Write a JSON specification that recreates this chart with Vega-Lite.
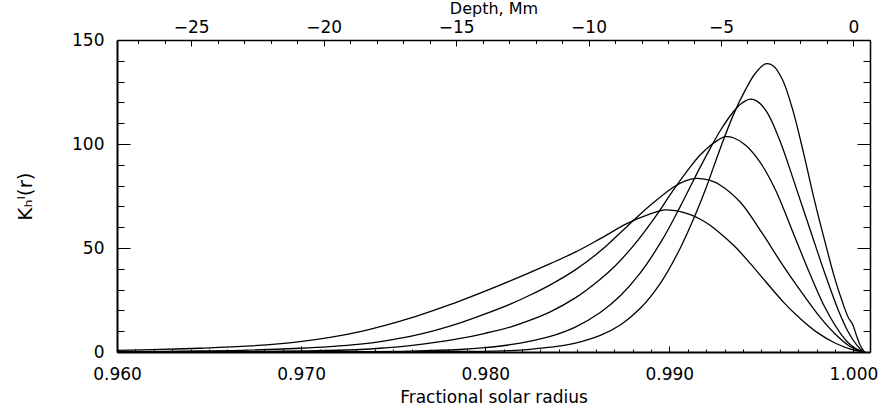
{
  "$schema": "https://vega.github.io/schema/vega-lite/v6.json",
  "width": 753,
  "height": 312,
  "autosize": {"type": "none"},
  "padding": {"left": 117, "top": 40, "right": 20, "bottom": 60},
  "background": "white",
  "config": {
    "view": {"stroke": null},
    "axis": {
      "grid": false,
      "domainColor": "black",
      "tickColor": "black",
      "labelColor": "black",
      "titleColor": "black",
      "labelFont": "DejaVu Sans",
      "titleFont": "DejaVu Sans",
      "labelFontSize": 17,
      "titleFontSize": 17,
      "titleFontWeight": "normal",
      "domainWidth": 1.5,
      "tickWidth": 1,
      "labelFlush": false,
      "labelOverlap": false
    }
  },
  "data": {
    "values": [
      {"c": "A", "r": 0.96, "k": 0},
      {"c": "A", "r": 0.973207, "k": 0.02},
      {"c": "A", "r": 0.975924, "k": 0.08},
      {"c": "A", "r": 0.978641, "k": 0.25},
      {"c": "A", "r": 0.981359, "k": 0.7},
      {"c": "A", "r": 0.982446, "k": 1.3},
      {"c": "A", "r": 0.983533, "k": 2.3},
      {"c": "A", "r": 0.984891, "k": 4.3},
      {"c": "A", "r": 0.98625, "k": 8},
      {"c": "A", "r": 0.987337, "k": 13},
      {"c": "A", "r": 0.988424, "k": 21},
      {"c": "A", "r": 0.989511, "k": 33},
      {"c": "A", "r": 0.990598, "k": 50},
      {"c": "A", "r": 0.991413, "k": 66},
      {"c": "A", "r": 0.991957, "k": 78},
      {"c": "A", "r": 0.992772, "k": 98},
      {"c": "A", "r": 0.993478, "k": 114},
      {"c": "A", "r": 0.99413, "k": 126},
      {"c": "A", "r": 0.994674, "k": 134},
      {"c": "A", "r": 0.995217, "k": 138.5},
      {"c": "A", "r": 0.995652, "k": 137.5},
      {"c": "A", "r": 0.996141, "k": 131},
      {"c": "A", "r": 0.996685, "k": 117},
      {"c": "A", "r": 0.997283, "k": 96},
      {"c": "A", "r": 0.99788, "k": 73},
      {"c": "A", "r": 0.998424, "k": 54},
      {"c": "A", "r": 0.998967, "k": 36},
      {"c": "A", "r": 0.999402, "k": 24},
      {"c": "A", "r": 0.999728, "k": 16.5},
      {"c": "A", "r": 0.999946, "k": 13.5},
      {"c": "A", "r": 1.000163, "k": 8},
      {"c": "A", "r": 1.00038, "k": 3},
      {"c": "A", "r": 1.000598, "k": 0},

      {"c": "B", "r": 0.96, "k": 0},
      {"c": "B", "r": 0.969946, "k": 0.1},
      {"c": "B", "r": 0.973207, "k": 0.2},
      {"c": "B", "r": 0.975924, "k": 0.45},
      {"c": "B", "r": 0.978641, "k": 1.2},
      {"c": "B", "r": 0.98, "k": 2.1},
      {"c": "B", "r": 0.981359, "k": 3.5},
      {"c": "B", "r": 0.982446, "k": 5.2},
      {"c": "B", "r": 0.983533, "k": 7.5},
      {"c": "B", "r": 0.984891, "k": 12},
      {"c": "B", "r": 0.98625, "k": 19},
      {"c": "B", "r": 0.987337, "k": 27},
      {"c": "B", "r": 0.988424, "k": 38},
      {"c": "B", "r": 0.98962, "k": 54},
      {"c": "B", "r": 0.990598, "k": 70},
      {"c": "B", "r": 0.991685, "k": 89},
      {"c": "B", "r": 0.992228, "k": 98},
      {"c": "B", "r": 0.992772, "k": 106.5},
      {"c": "B", "r": 0.993478, "k": 115.5},
      {"c": "B", "r": 0.993913, "k": 119.5},
      {"c": "B", "r": 0.994348, "k": 121.5},
      {"c": "B", "r": 0.994783, "k": 120.5},
      {"c": "B", "r": 0.995326, "k": 115},
      {"c": "B", "r": 0.996033, "k": 101},
      {"c": "B", "r": 0.996848, "k": 80},
      {"c": "B", "r": 0.997772, "k": 55.5},
      {"c": "B", "r": 0.998478, "k": 37},
      {"c": "B", "r": 0.999185, "k": 20},
      {"c": "B", "r": 0.999728, "k": 9.5},
      {"c": "B", "r": 1.000163, "k": 3.5},
      {"c": "B", "r": 1.000489, "k": 0.5},
      {"c": "B", "r": 1.000598, "k": 0},

      {"c": "C", "r": 0.96, "k": 0.02},
      {"c": "C", "r": 0.967228, "k": 0.2},
      {"c": "C", "r": 0.969946, "k": 0.5},
      {"c": "C", "r": 0.973207, "k": 1.2},
      {"c": "C", "r": 0.974565, "k": 2.0},
      {"c": "C", "r": 0.975924, "k": 3.1},
      {"c": "C", "r": 0.977283, "k": 4.6},
      {"c": "C", "r": 0.978641, "k": 6.5},
      {"c": "C", "r": 0.98, "k": 9},
      {"c": "C", "r": 0.981359, "k": 12},
      {"c": "C", "r": 0.982446, "k": 15.3},
      {"c": "C", "r": 0.983533, "k": 19.3},
      {"c": "C", "r": 0.984891, "k": 26},
      {"c": "C", "r": 0.98625, "k": 35},
      {"c": "C", "r": 0.987065, "k": 41.5},
      {"c": "C", "r": 0.988043, "k": 51},
      {"c": "C", "r": 0.989239, "k": 65},
      {"c": "C", "r": 0.990217, "k": 77.8},
      {"c": "C", "r": 0.991141, "k": 89},
      {"c": "C", "r": 0.991685, "k": 94.8},
      {"c": "C", "r": 0.992228, "k": 99.3},
      {"c": "C", "r": 0.992663, "k": 102},
      {"c": "C", "r": 0.993043, "k": 103.5},
      {"c": "C", "r": 0.993478, "k": 103},
      {"c": "C", "r": 0.99413, "k": 99.5},
      {"c": "C", "r": 0.994946, "k": 91},
      {"c": "C", "r": 0.995761, "k": 78},
      {"c": "C", "r": 0.996739, "k": 57},
      {"c": "C", "r": 0.997663, "k": 37},
      {"c": "C", "r": 0.998478, "k": 21},
      {"c": "C", "r": 0.999293, "k": 9},
      {"c": "C", "r": 0.999837, "k": 3.5},
      {"c": "C", "r": 1.00038, "k": 0.5},
      {"c": "C", "r": 1.000598, "k": 0},

      {"c": "D", "r": 0.96, "k": 0.15},
      {"c": "D", "r": 0.964511, "k": 0.5},
      {"c": "D", "r": 0.967228, "k": 0.9},
      {"c": "D", "r": 0.969946, "k": 1.8},
      {"c": "D", "r": 0.971576, "k": 2.6},
      {"c": "D", "r": 0.973207, "k": 3.8},
      {"c": "D", "r": 0.974565, "k": 5.4},
      {"c": "D", "r": 0.975924, "k": 7.5},
      {"c": "D", "r": 0.977283, "k": 10.4},
      {"c": "D", "r": 0.978641, "k": 14},
      {"c": "D", "r": 0.98, "k": 18.3},
      {"c": "D", "r": 0.981359, "k": 23},
      {"c": "D", "r": 0.982446, "k": 27.4},
      {"c": "D", "r": 0.983533, "k": 32.3},
      {"c": "D", "r": 0.984891, "k": 39.5},
      {"c": "D", "r": 0.98625, "k": 48.5},
      {"c": "D", "r": 0.987717, "k": 60.5},
      {"c": "D", "r": 0.988967, "k": 70.5},
      {"c": "D", "r": 0.990217, "k": 79.2},
      {"c": "D", "r": 0.99087, "k": 82.3},
      {"c": "D", "r": 0.991467, "k": 83.5},
      {"c": "D", "r": 0.99212, "k": 82.7},
      {"c": "D", "r": 0.992772, "k": 80.2},
      {"c": "D", "r": 0.993859, "k": 72},
      {"c": "D", "r": 0.995054, "k": 57},
      {"c": "D", "r": 0.996033, "k": 43.5},
      {"c": "D", "r": 0.99712, "k": 29.5},
      {"c": "D", "r": 0.998207, "k": 16.5},
      {"c": "D", "r": 0.999022, "k": 8.5},
      {"c": "D", "r": 0.999837, "k": 2.5},
      {"c": "D", "r": 1.00038, "k": 0.4},
      {"c": "D", "r": 1.000598, "k": 0},

      {"c": "E", "r": 0.96, "k": 0.8},
      {"c": "E", "r": 0.962337, "k": 1.25},
      {"c": "E", "r": 0.964511, "k": 1.8},
      {"c": "E", "r": 0.967228, "k": 2.9},
      {"c": "E", "r": 0.969946, "k": 5.0},
      {"c": "E", "r": 0.971576, "k": 7.0},
      {"c": "E", "r": 0.973207, "k": 9.8},
      {"c": "E", "r": 0.974565, "k": 12.8},
      {"c": "E", "r": 0.975924, "k": 16.3},
      {"c": "E", "r": 0.977283, "k": 20.3},
      {"c": "E", "r": 0.978641, "k": 24.6},
      {"c": "E", "r": 0.981359, "k": 34.2},
      {"c": "E", "r": 0.983533, "k": 42.5},
      {"c": "E", "r": 0.984891, "k": 48},
      {"c": "E", "r": 0.98625, "k": 54.5},
      {"c": "E", "r": 0.987717, "k": 61.8},
      {"c": "E", "r": 0.988967, "k": 66.4},
      {"c": "E", "r": 0.989783, "k": 68.3},
      {"c": "E", "r": 0.990598, "k": 67.5},
      {"c": "E", "r": 0.991141, "k": 66},
      {"c": "E", "r": 0.991685, "k": 63.8},
      {"c": "E", "r": 0.992228, "k": 60.8},
      {"c": "E", "r": 0.992772, "k": 57},
      {"c": "E", "r": 0.993587, "k": 50.5},
      {"c": "E", "r": 0.994402, "k": 42.5},
      {"c": "E", "r": 0.995217, "k": 34},
      {"c": "E", "r": 0.996196, "k": 24},
      {"c": "E", "r": 0.99712, "k": 16},
      {"c": "E", "r": 0.998043, "k": 9.3},
      {"c": "E", "r": 0.999022, "k": 4.2},
      {"c": "E", "r": 0.999837, "k": 1.4},
      {"c": "E", "r": 1.00038, "k": 0.3},
      {"c": "E", "r": 1.000598, "k": 0}
    ]
  },
  "layer": [
    {
      "mark": {"type": "line", "color": "black", "strokeWidth": 1.3, "interpolate": "catmull-rom"},
      "encoding": {
        "x": {"field": "r", "type": "quantitative",
          "scale": {"domain": [0.96, 1.0009], "nice": false, "zero": false},
          "axis": {"orient": "bottom", "values": [0.96, 0.97, 0.98, 0.99, 1.0], "format": ".3f",
            "tickSize": -6, "labelPadding": 33, "labelBaseline": "alphabetic",
            "title": "Fractional solar radius", "titleY": 50, "titleBaseline": "alphabetic", "domainWidth": 2}},
        "y": {"field": "k", "type": "quantitative",
          "scale": {"domain": [0, 150], "nice": false, "zero": false},
          "axis": {"orient": "left", "values": [0, 50, 100, 150], "format": "d",
            "tickSize": -13, "labelPadding": 26, "labelBaseline": "middle",
            "title": "Kₕˡ(r)", "titleX": -92, "titleY": 156, "titleAngle": -90, "titleBaseline": "middle", "titleFontSize": 20, "domainWidth": 2}},
        "detail": {"field": "c"}
      }
    },
    {
      "mark": {"type": "point", "opacity": 0},
      "encoding": {
        "x": {"field": "r", "type": "quantitative",
          "scale": {"domain": [0.96, 1.0009], "nice": false, "zero": false},
          "axis": {"orient": "bottom", "values": [0.961, 0.962, 0.963, 0.964, 0.965, 0.966, 0.967, 0.968, 0.969, 0.971, 0.972, 0.973, 0.974, 0.975, 0.976, 0.977, 0.978, 0.979, 0.981, 0.982, 0.983, 0.984, 0.985, 0.986, 0.987, 0.988, 0.989, 0.991, 0.992, 0.993, 0.994, 0.995, 0.996, 0.997, 0.998, 0.999],
            "labels": false, "tickSize": -3, "domain": false, "title": null}},
        "y": {"field": "k", "type": "quantitative",
          "scale": {"domain": [0, 150], "nice": false, "zero": false},
          "axis": {"orient": "left", "values": [10, 20, 30, 40, 60, 70, 80, 90, 110, 120, 130, 140],
            "labels": false, "tickSize": -7, "domain": false, "title": null}}
      }
    },
    {
      "mark": {"type": "point", "opacity": 0},
      "encoding": {
        "x": {"field": "r", "type": "quantitative",
          "scale": {"domain": [0.96, 1.0009], "nice": false, "zero": false},
          "axis": {"orient": "top", "values": [0.964029, 0.971223, 0.978417, 0.985612, 0.992806, 1.0],
            "labelExpr": "format(round((datum.value - 1) * 695), 'd')",
            "tickSize": -6, "labelPadding": 14, "labelBaseline": "alphabetic",
            "title": "Depth, Mm", "titleY": -27, "titleBaseline": "alphabetic", "titleFontSize": 16}},
        "y": {"field": "k", "type": "quantitative",
          "scale": {"domain": [0, 150], "nice": false, "zero": false},
          "axis": {"orient": "right", "values": [0, 50, 100, 150], "labels": false, "tickSize": -13, "title": null}}
      }
    },
    {
      "mark": {"type": "point", "opacity": 0},
      "encoding": {
        "x": {"field": "r", "type": "quantitative",
          "scale": {"domain": [0.96, 1.0009], "nice": false, "zero": false},
          "axis": {"orient": "top", "values": [0.998561, 0.997122, 0.995683, 0.994245, 0.991367, 0.989928, 0.988489, 0.98705, 0.984173, 0.982734, 0.981295, 0.979856, 0.976978, 0.97554, 0.974101, 0.972662, 0.969784, 0.968345, 0.966906, 0.965468, 0.96259, 0.961151],
            "labels": false, "tickSize": -3.5, "domain": false, "title": null}},
        "y": {"field": "k", "type": "quantitative",
          "scale": {"domain": [0, 150], "nice": false, "zero": false},
          "axis": {"orient": "right", "values": [10, 20, 30, 40, 60, 70, 80, 90, 110, 120, 130, 140],
            "labels": false, "tickSize": -7, "domain": false, "title": null}}
      }
    }
  ],
  "resolve": {"axis": {"x": "independent", "y": "independent"}}
}
